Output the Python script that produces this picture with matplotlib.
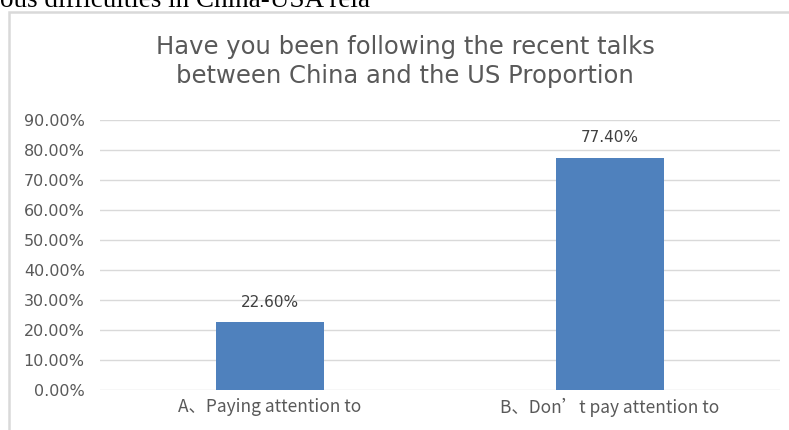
import matplotlib
matplotlib.use('Agg')
import matplotlib.pyplot as plt
from matplotlib.patches import Rectangle
from matplotlib.ticker import FuncFormatter

categories = ['A\u3001Paying attention to', 'B\u3001Don\u2019t pay attention to']
proportions = [0.226, 0.774]
value_labels = ['22.60%', '77.40%']
title_lines = ['Have you been following the recent talks', 'between China and the US Proportion']
yticks = [0.0, 0.1, 0.2, 0.3, 0.4, 0.5, 0.6, 0.7, 0.8, 0.9]

W, H = 789, 430
grey_text = '#595959'
grid_col = '#d9d9d9'
bar_col = '#4f81bd'

fig = plt.figure(figsize=(W / 100, H / 100), dpi=100)

# cut-off line of document text above the chart
fig.text(0, 1 - 7 / H, 'ous difficulties in China-USA rela', family='Liberation Serif',
         fontsize=19.5, color='black', va='baseline', ha='left')

# chart frame border
fig.patches.append(Rectangle((9 / W, -0.1), 1.1, 1 - 12 / H + 0.1, transform=fig.transFigure,
                             fill=False, edgecolor=grid_col, linewidth=1.8))

fig.text(405 / W, 1 - 54 / H, title_lines[0], family='DejaVu Sans', fontsize=17.5,
         color=grey_text, ha='center', va='baseline')
fig.text(405 / W, 1 - 83 / H, title_lines[1], family='DejaVu Sans', fontsize=17.5,
         color=grey_text, ha='center', va='baseline')

ax = fig.add_axes([100 / W, 1 - 390 / H, 680 / W, 270 / H])
x = range(len(categories))
ax.bar(x, proportions, width=0.315, color=bar_col, zorder=3)
for xi, v, lab in zip(x, proportions, value_labels):
    ax.annotate(lab, (xi, v), xytext=(0, 9), textcoords='offset points', ha='center',
                va='bottom', family='DejaVu Sans', fontsize=11, color='#404040')

ax.set_xlim(-0.5, 1.5)
ax.set_ylim(0, 0.9)
ax.set_yticks(yticks)
ax.yaxis.set_major_formatter(FuncFormatter(lambda v, p: '%.2f%%' % (v * 100)))
ax.set_xticks(list(x))
ax.set_xticklabels(categories, family='Noto Sans CJK SC', fontsize=12.5, color=grey_text)
for t in ax.get_yticklabels():
    t.set_family('DejaVu Sans')
    t.set_fontsize(11.5)
    t.set_color(grey_text)
ax.tick_params(length=0, pad=11)
ax.tick_params(axis='x', pad=6)
ax.grid(axis='y', color=grid_col, linewidth=1, zorder=0)
for s in ax.spines.values():
    s.set_visible(False)

fig.savefig('out.png', dpi=100)
